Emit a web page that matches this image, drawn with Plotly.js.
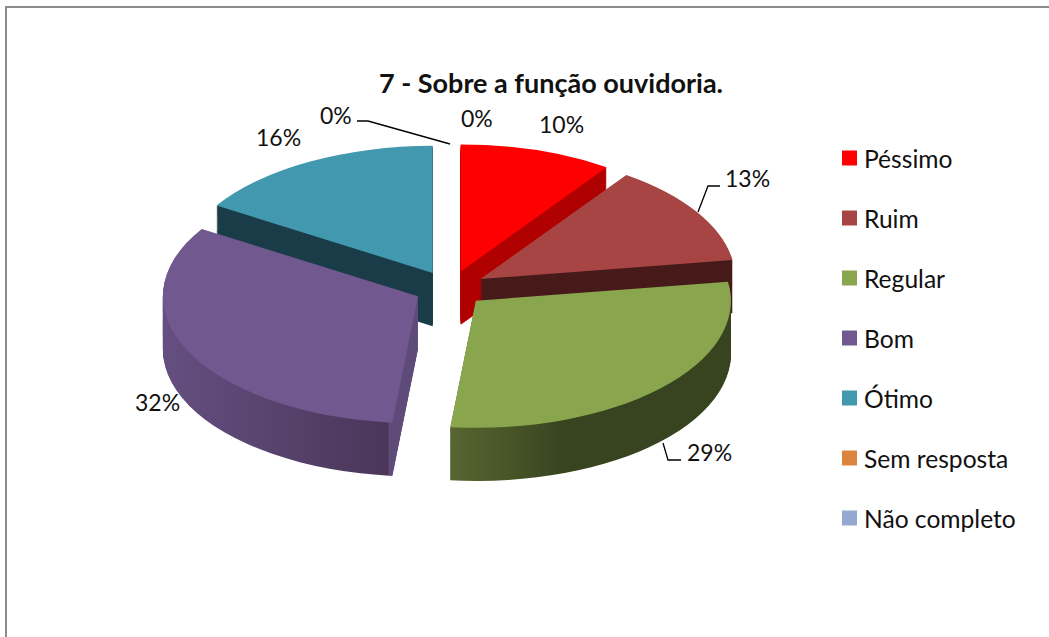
<!DOCTYPE html>
<html><head><meta charset="utf-8">
<script src="https://cdn.plot.ly/plotly-3.0.1.min.js"></script>
<style>html,body{margin:0;padding:0;background:#fff;overflow:hidden}#c{width:1049px;height:637px}</style>
</head><body><div id="c"></div>
<script>
const categories=["Péssimo","Ruim","Regular","Bom","Ótimo","Sem resposta","Não completo"];
const values=[9.7,12.9,29,32.3,16.1,0,0];
const topColors=["#FF0000","#A64543","#89A54E","#71588F","#4198AF","#DB843D","#93A9CF"];
const sideColors=["#B00000","#471B1A","#38431F","#5F4B7A","#1B3D49","#DB843D","#93A9CF"];
const pullFraction=[0.14,0.14,0.14,0.14,0.14,0,0];
const titleText="7 - Sobre a função ouvidoria.";
const FONT="Lato, Carlito, sans-serif";
const W=1049,H=637,sx=1.977,sy=0.985,layers=54,half=147.06,preCx=160,preCy=160,cx=450,cy=288.5;
const tx=cx-sx*preCx, ty=cy-sy*preCy;
const labelTexts=["0%","16%","0%","10%","13%","29%","32%"];
const labelX=[336,278,477,561,747,709,157];
const labelY=[115,137,118,124,178,452,402];
const leaders=[[[357,121],[368,121],[450,144]],[[720,186],[708,186],[698,212]],[[681,460],[668,460],[663,443]]];
const px=x=>x/W, py=y=>1-y/H;
const traces=[];
for(let i=layers;i>=0;i--){
  const yc=preCy+i;
  traces.push({type:"pie",labels:categories,values:values,sort:false,direction:"clockwise",rotation:0,
    pull:pullFraction,textinfo:"none",hoverinfo:"label+percent",showlegend:i===0,
    marker:{colors:i===0?topColors:sideColors,line:{width:0}},
    domain:{x:[(preCx-half)/W,(preCx+half)/W],y:[1-(yc+half)/H,1-(yc-half)/H]}});
}
const shapes=[
 {type:"line",xref:"paper",yref:"paper",x0:px(6),x1:px(6),y0:py(6),y1:py(637),line:{color:"#8c8c8c",width:2}},
 {type:"line",xref:"paper",yref:"paper",x0:px(5),x1:px(1049),y0:py(7),y1:py(7),line:{color:"#8c8c8c",width:2}}
];
leaders.forEach(l=>{shapes.push({type:"path",xref:"paper",yref:"paper",
  path:"M"+l.map(p=>px(p[0])+","+py(p[1])).join("L"),line:{color:"#000",width:1.3}});});
const annotations=labelTexts.map((t,i)=>({text:t,xref:"paper",yref:"paper",x:px(labelX[i]),y:py(labelY[i]),
  xanchor:"center",yanchor:"middle",showarrow:false,font:{family:FONT,size:23,color:"#111"}}));
const layout={width:W,height:H,margin:{l:0,r:0,t:0,b:0},paper_bgcolor:"#fff",plot_bgcolor:"#fff",
  title:{text:"<b>"+titleText+"</b>",x:551/W,xanchor:"center",y:1-84/H,yanchor:"middle",font:{family:FONT,size:27,color:"#111"}},
  shapes:shapes,annotations:annotations,
  legend:{x:835/W,xanchor:"left",y:1-140/H,yanchor:"top",bgcolor:"rgba(0,0,0,0)",traceorder:"normal",font:{family:FONT,size:24.6,color:"#111"}}};
Plotly.newPlot("c",traces,layout,{displayModeBar:false,staticPlot:false}).then(gd=>{
  document.querySelectorAll(".pielayer").forEach(p=>p.setAttribute("transform",`translate(${tx},${ty}) scale(${sx},${sy})`));
  const defs=gd.querySelector("defs");
  const ns="http://www.w3.org/2000/svg";
  const grad=(id,stops)=>{const g=document.createElementNS(ns,"linearGradient");
    g.setAttribute("id",id);g.setAttribute("gradientUnits","userSpaceOnUse");
    const xs=stops.map(s=>s[0]);
    g.setAttribute("x1",(xs[0]-tx)/sx);g.setAttribute("x2",(xs[xs.length-1]-tx)/sx);g.setAttribute("y1",0);g.setAttribute("y2",0);
    stops.forEach(s=>{const st=document.createElementNS(ns,"stop");
      st.setAttribute("offset",(s[0]-xs[0])/(xs[xs.length-1]-xs[0]));st.setAttribute("stop-color",s[1]);g.appendChild(st);});
    defs.appendChild(g);};
  grad("gReg",[[452,"#566531"],[500,"#4a5829"],[565,"#38431F"],[735,"#38431F"]]);
  grad("gBom",[[162,"#654F81"],[388,"#4A3659"],[389,"#5F4B7A"],[420,"#5F4B7A"]]);
  const groups=[...gd.querySelectorAll(".pielayer .trace")];
  groups.slice(0,-1).forEach(g=>{
    g.querySelectorAll(".slice path.surface").forEach(p=>{
      const n=p.__data__&&p.__data__.i;
      if(n===2)p.style.fill="url(#gReg)";
      if(n===3)p.style.fill="url(#gBom)";
    });
  });
  const box=gd.querySelector(".legend .scrollbox");
  if(box)box.removeAttribute("clip-path");
  gd.querySelectorAll(".legend .traces").forEach((t,i)=>{
    t.setAttribute("transform",`translate(0,${18+60*i})`);
    t.querySelectorAll(".legendpoints path").forEach(p=>{p.setAttribute("d","M7.5,7.5H-7.5V-7.5H7.5Z");p.setAttribute("transform","translate(14.5,0)");});
    const tx2=t.querySelector(".legendtext");if(tx2)tx2.setAttribute("x",29);
  });
});
</script></body></html>
